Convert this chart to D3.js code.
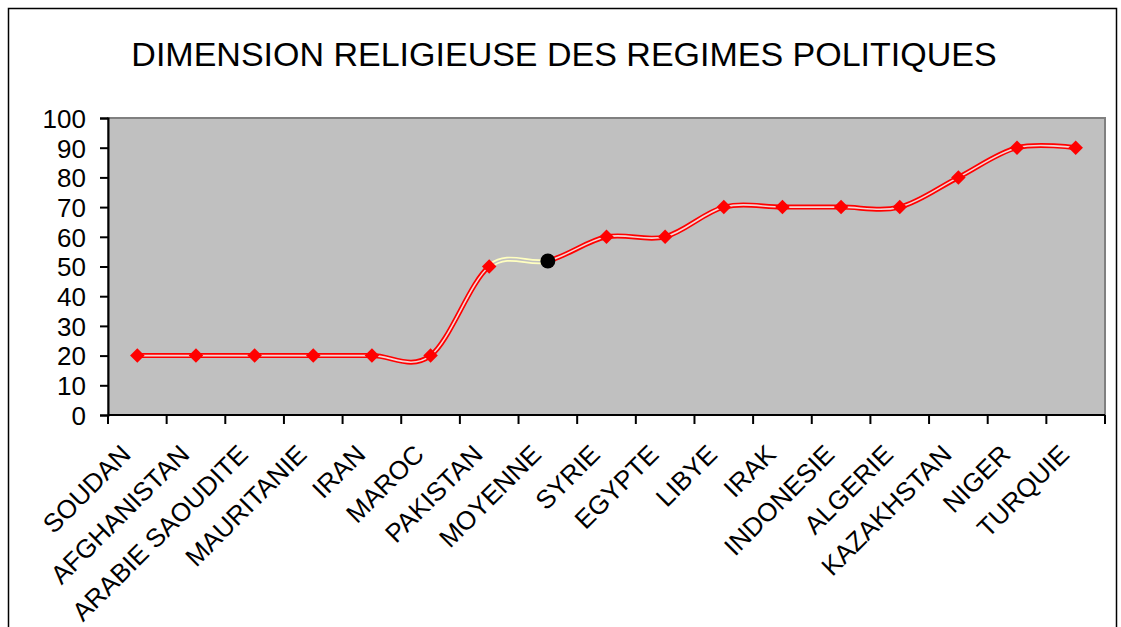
<!DOCTYPE html>
<html>
<head>
<meta charset="utf-8">
<script src="https://cdn.jsdelivr.net/npm/d3@7"></script>
<style>
  body { margin: 0; background: #fff; }
  text { font-family: "Liberation Sans", Arial, sans-serif; fill: #000; }
</style>
</head>
<body>
<script>
// donnees du graphique
const pays = ['SOUDAN', 'AFGHANISTAN', 'ARABIE SAOUDITE', 'MAURITANIE', 'IRAN', 'MAROC', 'PAKISTAN',
              'MOYENNE', 'SYRIE', 'EGYPTE', 'LIBYE', 'IRAK', 'INDONESIE', 'ALGERIE', 'KAZAKHSTAN', 'NIGER', 'TURQUIE'];
const valeurs = [20, 20, 20, 20, 20, 20, 50, 51.875, 60, 60, 70, 70, 70, 70, 80, 90, 90];
const yTicks = [0, 10, 20, 30, 40, 50, 60, 70, 80, 90, 100];
const titre = 'DIMENSION RELIGIEUSE DES REGIMES POLITIQUES';
const indexMoyenne = 7;

const WIDTH = 1121;
const HEIGHT = 627;
const plot = { left: 108, top: 118, right: 1105, bottom: 415 };

let svg = d3.select('body').append('svg')
    .attr('width', WIDTH)
    .attr('height', HEIGHT);

// cadre exterieur
svg.append('path')
    .attr('d', `M8.5,${HEIGHT} V8.5 H1116.5 V${HEIGHT}`)
    .attr('fill', 'none')
    .attr('stroke', '#000')
    .attr('stroke-width', 1.5);

svg.append('text')
    .attr('x', 564)
    .attr('y', 66)
    .attr('text-anchor', 'middle')
    .style('font-size', '34px')
    .text(titre);

let x = d3.scaleBand().domain(pays).range([plot.left, plot.right]);
let y = d3.scaleLinear().domain([0, 100]).range([plot.bottom, plot.top]);

// zone de traçage
svg.append('rect')
    .attr('x', plot.left)
    .attr('y', plot.top)
    .attr('width', plot.right - plot.left)
    .attr('height', plot.bottom - plot.top)
    .attr('fill', '#c0c0c0')
    .attr('stroke', '#808080')
    .attr('stroke-width', 2);

// axe Y
let yAxis = svg.append('g')
    .attr('transform', `translate(${plot.left},0)`)
    .call(d3.axisLeft(y).tickValues(yTicks).tickSize(8).tickPadding(14));
yAxis.selectAll('text').style('font-size', '26px').attr('dy', '0.36em');
yAxis.select('.domain').attr('stroke-width', 2);
yAxis.selectAll('.tick line').attr('stroke-width', 2);

// axe X (graduations entre les categories)
let xAxis = svg.append('g')
    .attr('transform', `translate(0,${plot.bottom})`);
xAxis.append('line')
    .attr('x1', plot.left).attr('x2', plot.right)
    .attr('stroke', '#000').attr('stroke-width', 2);
let bornes = pays.map(p => x(p)).concat([plot.right]);
xAxis.selectAll('.tk').data(bornes).join('line')
    .attr('x1', d => d).attr('x2', d => d)
    .attr('y1', 0).attr('y2', 9)
    .attr('stroke', '#000').attr('stroke-width', 2);

xAxis.selectAll('.lbl').data(pays).join('text')
    .attr('transform', d => `translate(${x(d) + x.bandwidth() / 2 - 5},${41}) rotate(-45)`)
    .attr('text-anchor', 'end')
    .style('font-size', '26px')
    .text(d => d);

// courbe lissee
let cx = i => x(pays[i]) + x.bandwidth() / 2;
let ligne = d3.line()
    .x((d, i) => cx(i))
    .y(d => y(d))
    .curve(d3.curveCardinal.tension(0));

let defs = svg.append('defs');
let xa = cx(6), xb = cx(7);
defs.append('clipPath').attr('id', 'hors')
    .append('path')
    .attr('d', `M0,0 H${xa} V${HEIGHT} H0 Z M${xb},0 H${WIDTH} V${HEIGHT} H${xb} Z`);
defs.append('clipPath').attr('id', 'dedans')
    .append('rect')
    .attr('x', xa).attr('y', 0).attr('width', xb - xa).attr('height', HEIGHT);

let gRouge = svg.append('g').attr('clip-path', 'url(#hors)');
gRouge.append('path').datum(valeurs).attr('d', ligne)
    .attr('fill', 'none').attr('stroke', '#ff0000').attr('stroke-width', 5);
gRouge.append('path').datum(valeurs).attr('d', ligne)
    .attr('fill', 'none').attr('stroke', '#f4d6d6').attr('stroke-width', 1.6);

let gJaune = svg.append('g').attr('clip-path', 'url(#dedans)');
gJaune.append('path').datum(valeurs).attr('d', ligne)
    .attr('fill', 'none').attr('stroke', '#ffffc0').attr('stroke-width', 5);
gJaune.append('path').datum(valeurs).attr('d', ligne)
    .attr('fill', 'none').attr('stroke', '#c0c0c0').attr('stroke-width', 1.6);

// marqueurs
let points = valeurs.map((v, i) => ({ i: i, v: v }));
let losange = d3.symbol().type(d3.symbolSquare).size(105);
svg.selectAll('.pt').data(points.filter(p => p.i !== indexMoyenne)).join('path')
    .attr('d', losange)
    .attr('transform', p => `translate(${cx(p.i)},${y(p.v)}) rotate(45)`)
    .attr('fill', '#ff0000');

svg.append('circle')
    .attr('cx', cx(indexMoyenne))
    .attr('cy', y(valeurs[indexMoyenne]))
    .attr('r', 7.5)
    .attr('fill', '#000');
</script>
</body>
</html>
